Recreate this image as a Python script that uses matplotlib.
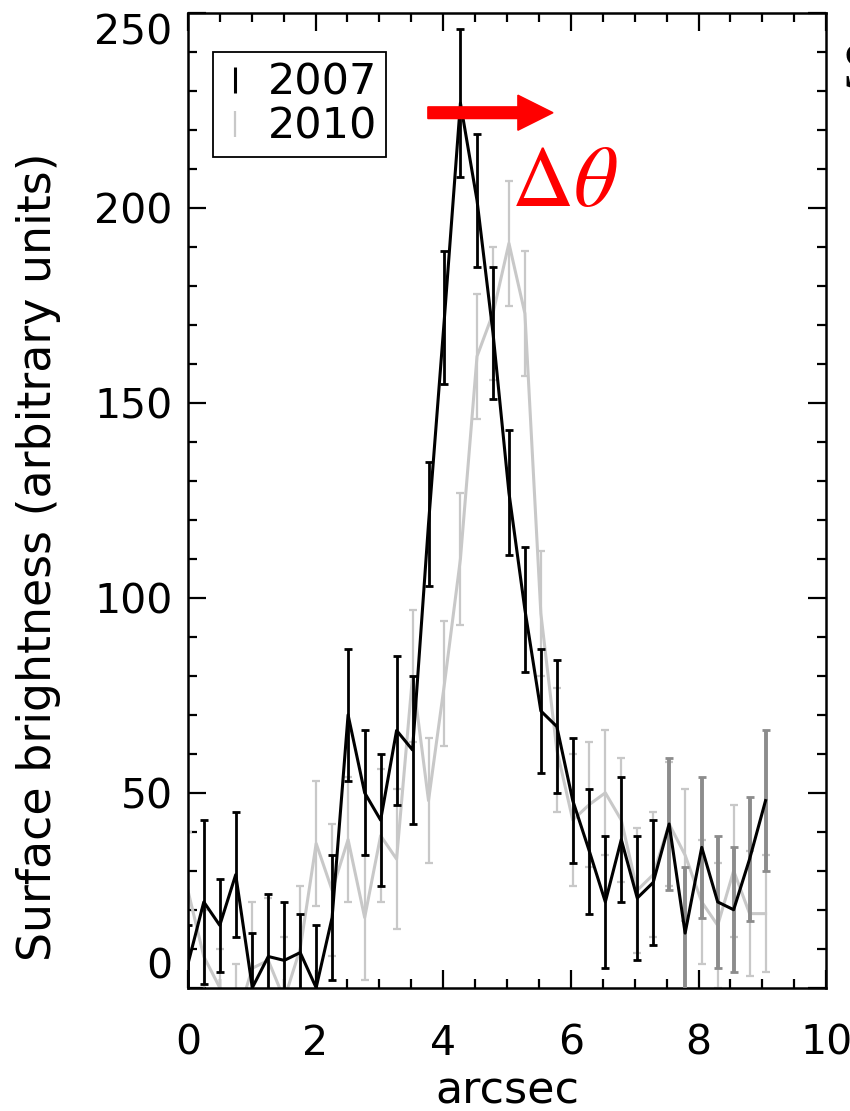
import matplotlib
matplotlib.use("Agg")
import matplotlib.pyplot as plt
from matplotlib.lines import Line2D
from matplotlib.patches import FancyArrow
from matplotlib.ticker import MultipleLocator

# positions along the slit (arcsec)
arcsec = [0.00, 0.25, 0.50, 0.75, 1.01, 1.26, 1.51, 1.76, 2.01, 2.26,
          2.51, 2.77, 3.02, 3.27, 3.52, 3.77, 4.02, 4.27, 4.53, 4.78,
          5.03, 5.28, 5.53, 5.78, 6.03, 6.29, 6.54, 6.79, 7.04, 7.29,
          7.54, 7.79, 8.05, 8.30, 8.55, 8.80, 9.05]

# 2007 profile
sb_2007 = [6, 22, 16, 29, 0, 8, 7, 9, 0, 18,
           70, 50, 43, 66, 61, 119, 172, 227, 202, 168,
           127, 97, 71, 67, 48, 35, 22, 38, 23, 27,
           42, 14, 36, 22, 20, 33, 48]
err_2007 = [10, 21, 12, 16, 14, 16, 15, 10, 16, 16,
            17, 16, 17, 19, 19, 16, 17, 19, 17, 17,
            16, 16, 16, 17, 16, 16, 17, 16, 16, 16,
            17, 17, 18, 17, 16, 16, 18]

# 2010 profile
sb_2010 = [25, 8, 0, -9, 5, 7, -3, 10, 37, 25,
           38, 18, 39, 33, 80, 48, 78, 110, 162, 173,
           191, 173, 96, 61, 43, 47, 50, 43, 25, 29,
           42, 34, 22, 16, 30, 19, 19]
err_2010 = [15, 12, 10, 15, 17, 16, 16, 16, 16, 17,
            16, 16, 17, 18, 17, 16, 16, 17, 16, 17,
            16, 16, 16, 16, 17, 16, 16, 16, 16, 16,
            16, 17, 16, 16, 17, 16, 15]

plt.rcParams['font.family'] = ['DejaVu Sans']
plt.rcParams['mathtext.fontset'] = 'stix'

fig = plt.figure(figsize=(8.5, 11.11), dpi=100)
ax = fig.add_axes([0.221, 0.111, 0.751, 0.877])

light = '#c8c8c8'

# 2010 first, 2007 on top
ax.errorbar(arcsec, sb_2010, yerr=err_2010, color=light, ecolor=light,
            lw=2.2, elinewidth=1.6, capsize=3, capthick=1.6, zorder=2)
ax.plot(arcsec, sb_2007, color='black', lw=2.2, zorder=4)
n = 30
ax.errorbar(arcsec[:n], sb_2007[:n], yerr=err_2007[:n], fmt='none',
            ecolor='black', elinewidth=2.0, capsize=3, capthick=2.0, zorder=3)
ax.errorbar(arcsec[n:], sb_2007[n:], yerr=err_2007[n:], fmt='none',
            ecolor='#8c8c8c', elinewidth=2.8, capsize=3, capthick=2.0, zorder=3)

ax.set_xlim(0, 10)
ax.set_ylim(0, 250)
ax.xaxis.set_major_locator(MultipleLocator(2))
ax.xaxis.set_minor_locator(MultipleLocator(0.5))
ax.yaxis.set_major_locator(MultipleLocator(50))
ax.yaxis.set_minor_locator(MultipleLocator(10))
ax.tick_params(which='both', direction='in', top=True, right=True,
               labelsize=29.5, width=1.6)
ax.tick_params(which='major', length=13)
ax.tick_params(which='minor', length=6.5)
ax.tick_params(axis='y', pad=11)
ax.tick_params(axis='x', pad=26)
for sp in ax.spines.values():
    sp.set_linewidth(1.8)

ax.set_xlabel('arcsec', fontsize=32)
ax.set_ylabel('Surface brightness (arbitrary units)', fontsize=33)
ax.yaxis.set_label_coords(-0.198, 0.442)

handles = [Line2D([], [], color='black', marker='|', ls='none', ms=19, mew=2.2),
           Line2D([], [], color=light, marker='|', ls='none', ms=19, mew=1.6)]
leg = ax.legend(handles, ['2007', '2010'], loc='upper left',
                bbox_to_anchor=(0.039, 0.96), borderaxespad=0, fontsize=31,
                handlelength=0.6, handletextpad=0.45, borderpad=0.22,
                labelspacing=0.05, fancybox=False, framealpha=1)
leg.get_frame().set_edgecolor('black')
leg.get_frame().set_linewidth(1.3)

# shift arrow
ax.add_patch(FancyArrow(3.76, 224.5, 1.96, 0, width=3.0, head_width=9.0,
                        head_length=0.55, length_includes_head=True,
                        color='red', zorder=6))
ax.text(5.06, 200.6, r'$\Delta\theta$', color='red', fontsize=62,
        ha='left', va='baseline', zorder=6)

# cut-off character at the right edge
fig.text(842 / 850, 1 - 72 / 1111, 'S', fontsize=48, family='Liberation Serif',
         ha='left', va='center')

# keep the end labels of the y axis inside the frame
fig.canvas.draw()
for tick in ax.yaxis.get_major_ticks():
    if abs(tick.get_loc() - 0) < 1e-6:
        tick.label1.set_verticalalignment('bottom')
    elif abs(tick.get_loc() - 250) < 1e-6:
        tick.label1.set_verticalalignment('top')

fig.savefig('out.png', dpi=100)
